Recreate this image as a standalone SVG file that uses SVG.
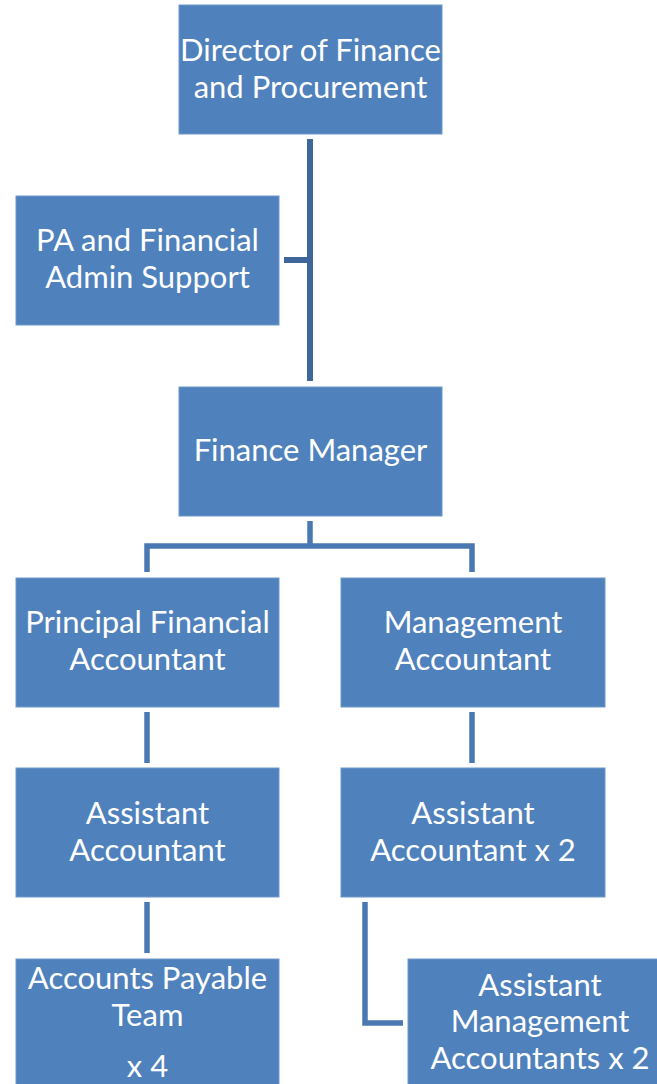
<svg xmlns="http://www.w3.org/2000/svg" width="657" height="1084" viewBox="0 0 657 1084">
<style>
.box{fill:#4F81BD;stroke:#6f97c9;stroke-width:1}
.t{font-family:Lato,"Open Sans","Liberation Sans",sans-serif;font-size:31px;fill:#ffffff;text-anchor:middle}
.c{fill:none;stroke:#4a78b3;stroke-width:5.5}
.c0{fill:none;stroke:#3e6699;stroke-width:6}
</style>
<rect width="657" height="1084" fill="#ffffff"/>
<g id="connectors">
<path class="c0" d="M310 139V381"/>
<path class="c0" d="M284 260H310"/>
<path class="c" d="M310 521V546M147 572V546H472V572"/>
<path class="c" d="M147 712V763"/>
<path class="c" d="M472 712V763"/>
<path class="c" d="M147 902V953"/>
<path class="c" d="M365 902V1023H403"/>
</g>
<g id="director">
<rect class="box" x="179" y="5" width="263" height="129"/>
<text class="t" x="310.5" y="61">Director of Finance</text>
<text class="t" x="310.5" y="98">and Procurement</text>
</g>
<g id="pa">
<rect class="box" x="16" y="196" width="263" height="129"/>
<text class="t" x="147.5" y="251">PA and Financial</text>
<text class="t" x="147.5" y="288">Admin Support</text>
</g>
<g id="finance-manager">
<rect class="box" x="179" y="387" width="263" height="129"/>
<text class="t" x="310.5" y="461">Finance Manager</text>
</g>
<g id="principal-financial-accountant">
<rect class="box" x="16" y="578" width="263" height="129"/>
<text class="t" x="147.5" y="633">Principal Financial</text>
<text class="t" x="147.5" y="670">Accountant</text>
</g>
<g id="management-accountant">
<rect class="box" x="341" y="578" width="264" height="129"/>
<text class="t" x="473" y="633">Management</text>
<text class="t" x="473" y="670">Accountant</text>
</g>
<g id="assistant-accountant">
<rect class="box" x="16" y="768" width="263" height="129"/>
<text class="t" x="147.5" y="824">Assistant</text>
<text class="t" x="147.5" y="861">Accountant</text>
</g>
<g id="assistant-accountant-x2">
<rect class="box" x="341" y="768" width="264" height="129"/>
<text class="t" x="473" y="824">Assistant</text>
<text class="t" x="473" y="861">Accountant x 2</text>
</g>
<g id="accounts-payable-team">
<rect class="box" x="16" y="959" width="263" height="140"/>
<text class="t" x="147.5" y="989">Accounts Payable</text>
<text class="t" x="147.5" y="1026">Team</text>
<text class="t" x="147.5" y="1077">x 4</text>
</g>
<g id="assistant-management-accountants">
<rect class="box" x="408" y="959" width="264" height="140"/>
<text class="t" x="540" y="996">Assistant</text>
<text class="t" x="540" y="1032">Management</text>
<text class="t" x="540" y="1069">Accountants x 2</text>
</g>
</svg>
